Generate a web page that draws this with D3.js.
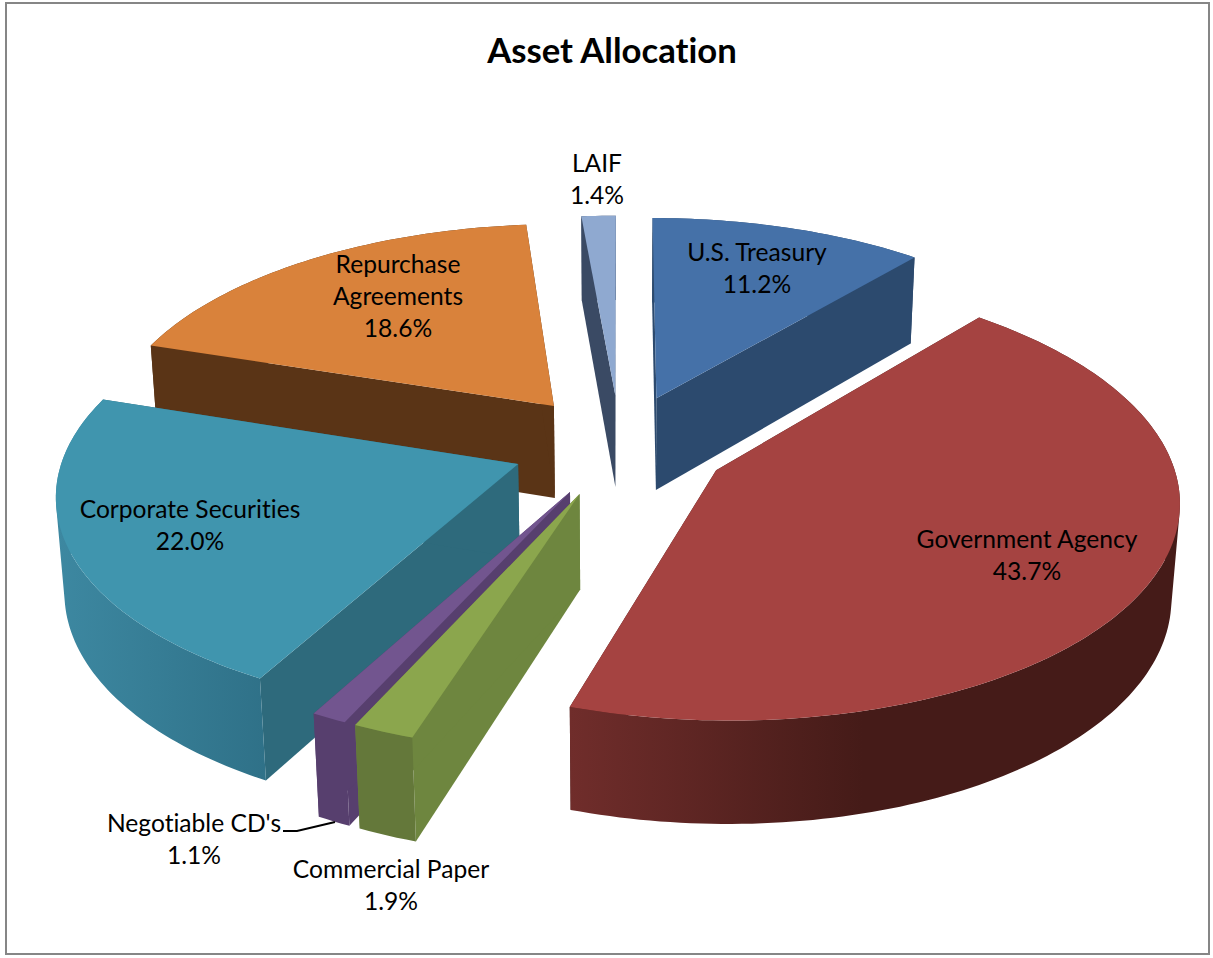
<!DOCTYPE html>
<html><head><meta charset="utf-8">
<script src="https://cdn.jsdelivr.net/npm/d3@7"></script>
<style>html,body{margin:0;padding:0;background:#fff}svg{display:block}text{font-variant-ligatures:none}</style>
</head><body>
<svg id="c" width="1213" height="958"></svg>
<script>
const categories = ["U.S. Treasury","Government Agency","Commercial Paper","Negotiable CD's","Corporate Securities","Repurchase Agreements","LAIF"];
const values = [11.2,43.7,1.9,1.1,22.0,18.6,1.4];
const labelLines = [["U.S. Treasury"],["Government Agency"],["Commercial Paper"],["Negotiable CD's"],["Corporate Securities"],["Repurchase","Agreements"],["LAIF"]];
const topColors = ["#4571A8","#A54341","#8BA64D","#72558F","#4095AE","#D9823B","#8FA9D0"];
const radialColors = ["#2C4A6E","#451B18","#6E863F","#573F6E","#2E6A7C","#5A3416","#3A4A64"];
const wallLeft  = ["#2C4A6E","#702D2B","#64783A","#573F6E","#3D88A1","#5A3416","#3A4A64"];
const wallRight = ["#2C4A6E","#451B18","#64783A","#573F6E","#2F7188","#5A3416","#3A4A64"];
const wallBreak = [1,0.48,1,1,1,1,1];
const drawOrder = [6,0,5,1,4,3,2];
const labelX = [757,1027,391,194,190,398,597];
const labelY = [261,548,878,832,518,273,172];

const svg=d3.select("#c");
svg.append("rect").attr("x",6).attr("y",3).attr("width",1203).attr("height",951)
  .attr("fill","#fff").attr("stroke","#868686").attr("stroke-width",2);
const defs=svg.append("defs");

const cx=620, cy=445, A=452, B=213, D=95, k=0.1224, m=0.015, explode=0.24;
function project(X,Y,z){
  const s=1/(1+k*Y+m*z);
  return [cx+X*A*s, cy+(-Y*B+z*D)*s];
}
const arcs=d3.pie().sort(null).value(d=>d)(values);
const line=d3.line();
const g=svg.append("g");

drawOrder.forEach(i=>{
  const a=arcs[i], mid=(a.startAngle+a.endAngle)/2;
  const ox=explode*Math.sin(mid), oy=explode*Math.cos(mid);
  const P=(th,r,z)=>project(ox+r*Math.sin(th),oy+r*Math.cos(th),z);
  const n=Math.max(2,Math.ceil((a.endAngle-a.startAngle)/0.02));
  const angles=d3.range(n+1).map(j=>a.startAngle+(a.endAngle-a.startAngle)*j/n);
  const sl=g.append("g").attr("data-cat",categories[i]);
  [a.startAngle,a.endAngle].forEach(th=>{
    sl.append("path").attr("d",line([P(th,0,0),P(th,1,0),P(th,1,1),P(th,0,1)])+"Z")
      .attr("fill",radialColors[i]);
  });
  const upper=angles.map(t=>P(t,1,0)), lower=angles.map(t=>P(t,1,1));
  const [x0,x1]=d3.extent(upper.concat(lower),p=>p[0]);
  const grad=defs.append("linearGradient").attr("id","rim"+i).attr("gradientUnits","userSpaceOnUse")
    .attr("x1",x0).attr("x2",x1).attr("y1",0).attr("y2",0);
  grad.append("stop").attr("offset",0).attr("stop-color",wallLeft[i]);
  grad.append("stop").attr("offset",wallBreak[i]).attr("stop-color",wallRight[i]);
  const rimPath=d3.pairs(d3.range(n+1)).map(([p,q])=>{
    const quad=[upper[p],upper[q],lower[q],lower[p]];
    if(d3.polygonArea(quad)<0) quad.reverse();
    return line(quad)+"Z";
  }).join("");
  sl.append("path").attr("d",rimPath).attr("fill",`url(#rim${i})`).attr("fill-rule","nonzero");
  sl.append("path").attr("d",line([P(0,0,0)].concat(upper))+"Z").attr("fill",topColors[i]);
});

const font="Lato, Carlito, Calibri, sans-serif";
svg.append("text").attr("x",612).attr("y",63).attr("text-anchor","middle")
  .attr("font-family",font).attr("font-weight",700).attr("font-size",34.7).text("Asset Allocation");
svg.append("path").attr("d",line([[283,831],[297,831],[335,822]]))
  .attr("fill","none").attr("stroke","#000").attr("stroke-width",2);
categories.forEach((c,i)=>{
  const t=svg.append("text").attr("text-anchor","middle").attr("font-family",font).attr("font-size",24.6).attr("fill","#000");
  const lines=labelLines[i].concat([values[i].toFixed(1)+"%"]);
  lines.forEach((l,j)=>t.append("tspan").attr("x",labelX[i]).attr("y",labelY[i]+j*32).text(l));
});
</script>
</body></html>
